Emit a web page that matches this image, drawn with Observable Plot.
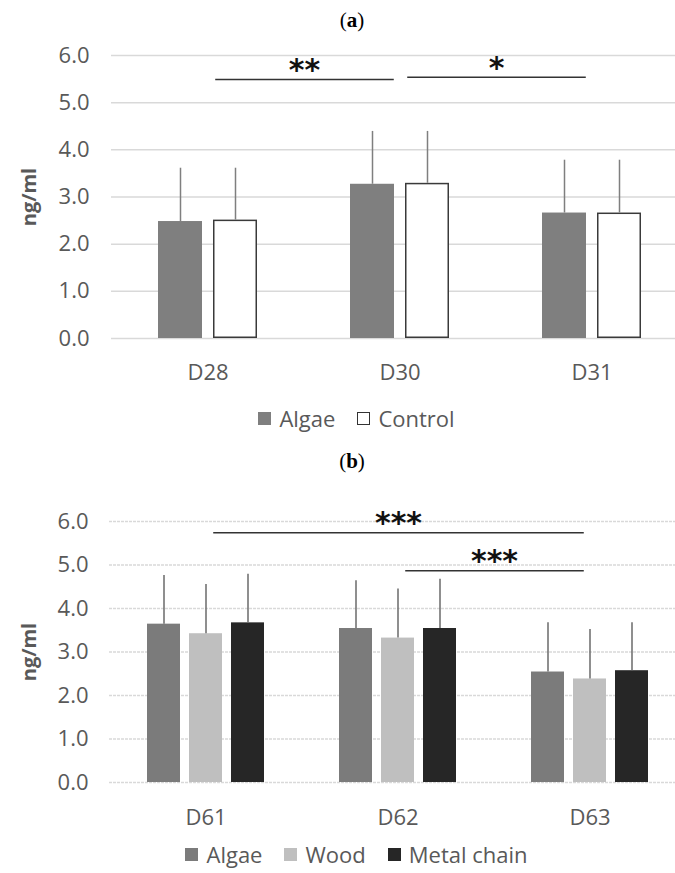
<!DOCTYPE html>
<html><head><meta charset="utf-8">
<script src="https://cdn.jsdelivr.net/npm/d3@7"></script>
<script src="https://cdn.jsdelivr.net/npm/@observablehq/plot@0.6"></script>
<style>
html,body{margin:0;padding:0;background:#fff;width:675px;height:873px;overflow:hidden;}
.title{position:absolute;left:0;width:704px;text-align:center;font-family:"Liberation Serif","DejaVu Serif",serif;font-size:21px;color:#000;line-height:24px;}
.panel{position:absolute;left:0;width:675px;height:370px;}
.panel svg{position:absolute;left:0;top:0;}
.legend{position:absolute;left:0;width:713px;height:22px;display:flex;justify-content:center;align-items:center;font-family:"Open Sans";font-size:22px;color:#595959;line-height:22px;}
.item{display:flex;align-items:center;margin:0 11px;}
.sw{width:13px;height:13px;display:inline-block;box-sizing:border-box;margin-right:8px;}
svg [aria-label="y-axis label"]{font-weight:bold;font-size:20px;}
</style>
</head><body>
<div class="title" style="top:8px">(<b>a</b>)</div>
<div class="panel" id="pa" style="top:30px"></div>
<div class="legend" id="la" style="top:407px"></div>
<div class="title" style="top:449px">(<b>b</b>)</div>
<div class="panel" id="pb" style="top:495px"></div>
<div class="legend" id="lb" style="top:843px"></div>
<script>
// ---- Data: panel (a)
const categoriesA = ["D28", "D30", "D31"];
const seriesA = ["Algae", "Control"];
const algaeA = [2.48, 3.27, 2.66];
const controlA = [2.51, 3.29, 2.66];
const algaeSdA = [1.13, 1.12, 1.12];
const controlSdA = [1.10, 1.10, 1.12];
const bracketsA = [
  {from: "D28", to: "D30", y: 5.49, label: "**"},
  {from: "D30", to: "D31", y: 5.54, label: "*"}
];
// ---- Data: panel (b)
const categoriesB = ["D61", "D62", "D63"];
const seriesB = ["Algae", "Wood", "Metal chain"];
const algaeB = [3.64, 3.54, 2.54];
const woodB = [3.42, 3.32, 2.38];
const metalB = [3.67, 3.54, 2.57];
const algaeSdB = [1.12, 1.10, 1.13];
const woodSdB = [1.13, 1.13, 1.14];
const metalSdB = [1.12, 1.13, 1.10];
const bracketsB = [
  {from: "D61", to: "D63", y: 5.74, label: "***"},
  {from: "D62", to: "D63", y: 4.87, label: "***"}
];
const yTicks = [0, 1, 2, 3, 4, 5, 6];

function buildPanel(el, o) {
  const rows = [];
  o.categories.forEach((c, i) => o.series.forEach((s, j) =>
    rows.push({cat: c, series: s, value: o.values[j][i], sd: o.sds[j][i]})));
  const idx = c => o.categories.indexOf(c);
  const gap = 0.035;
  const common = {
    width: 675, height: 370,
    marginLeft: o.ml, marginRight: 0, marginTop: o.mt, marginBottom: o.mb,
    style: {fontFamily: "Open Sans", fontSize: "22px", color: "#595959", background: "transparent", overflow: "visible"}
  };
  const back = Plot.plot({
    ...common,
    x: {type: "linear", domain: [-0.5, o.categories.length - 0.5], range: o.range, axis: null},
    y: {domain: [0, 6], ticks: yTicks, tickFormat: d3.format(".1f"), tickSize: 0, tickPadding: o.tp,
        label: "ng/ml", labelArrow: "none", labelAnchor: "center", labelOffset: o.ml - 21},
    marks: [
      Plot.ruleY(yTicks, {stroke: o.grid, strokeWidth: 1.5, strokeDasharray: o.dash}),
      Plot.link(o.brackets, {x1: d => idx(d.from) + gap, x2: d => idx(d.to) - gap, y1: "y", y2: "y",
        stroke: "#333", strokeWidth: 1.5}),
      Plot.text(o.brackets, {x: d => (idx(d.from) + idx(d.to)) / 2, y: "y", text: "label", dy: -9,
        fontSize: 30, fontWeight: "bold", fontFamily: "DejaVu Sans", fill: "#111"})
    ]
  });
  const front = Plot.plot({
    ...common,
    fx: {domain: o.categories, range: o.range, paddingInner: o.fpi, paddingOuter: o.fpi / 2,
         axis: "bottom", tickSize: 0, tickPadding: o.xtp, label: null},
    x: {domain: o.series, paddingInner: o.pi, paddingOuter: 0, axis: null},
    y: {domain: [0, 6], axis: null},
    color: {domain: o.series, range: o.colors},
    marks: [
      Plot.barY(rows, {fx: "cat", x: "series", y: "value", fill: "series"}),
      Plot.barY(rows.filter(d => o.outlined.includes(d.series)),
        {fx: "cat", x: "series", y: "value", fill: "none", stroke: "#3a3a3a", strokeWidth: 1.5, inset: 0.75}),
      Plot.ruleX(rows, {fx: "cat", x: "series", y1: "value", y2: d => d.value + d.sd, stroke: o.err, strokeWidth: 1.5})
    ]
  });
  el.appendChild(back);
  el.appendChild(front);
}

function buildLegend(el, series, colors, outlined) {
  series.forEach((s, i) => {
    const it = document.createElement("span"); it.className = "item";
    const sw = document.createElement("span"); sw.className = "sw";
    sw.style.background = colors[i];
    if (outlined.includes(s)) sw.style.border = "1.5px solid #333";
    const tx = document.createElement("span"); tx.textContent = s;
    it.appendChild(sw); it.appendChild(tx); el.appendChild(it);
  });
}

const colorsA = ["#7f7f7f", "#ffffff"];
const colorsB = ["#7b7b7b", "#bfbfbf", "#262626"];

buildPanel(document.getElementById("pa"), {
  categories: categoriesA, series: seriesA, values: [algaeA, controlA], sds: [algaeSdA, controlSdA],
  colors: colorsA, outlined: ["Control"], brackets: bracketsA, err: "#7f7f7f",
  ml: 111, mt: 25, mb: 62, range: [112, 688], fpi: 0.484, pi: 0.2, tp: 22, xtp: 26, grid: "#d9d9d9"
});
buildPanel(document.getElementById("pb"), {
  categories: categoriesB, series: seriesB, values: [algaeB, woodB, metalB], sds: [algaeSdB, woodSdB, metalSdB],
  colors: colorsB, outlined: [], brackets: bracketsB, err: "#6a6a6a",
  ml: 109, mt: 26, mb: 83, range: [110, 686], fpi: 0.378, pi: 0.22, tp: 21, xtp: 27, grid: "#d9d9d9", dash: "3,1"
});
buildLegend(document.getElementById("la"), seriesA, colorsA, ["Control"]);
buildLegend(document.getElementById("lb"), seriesB, colorsB, []);
</script>
</body></html>
